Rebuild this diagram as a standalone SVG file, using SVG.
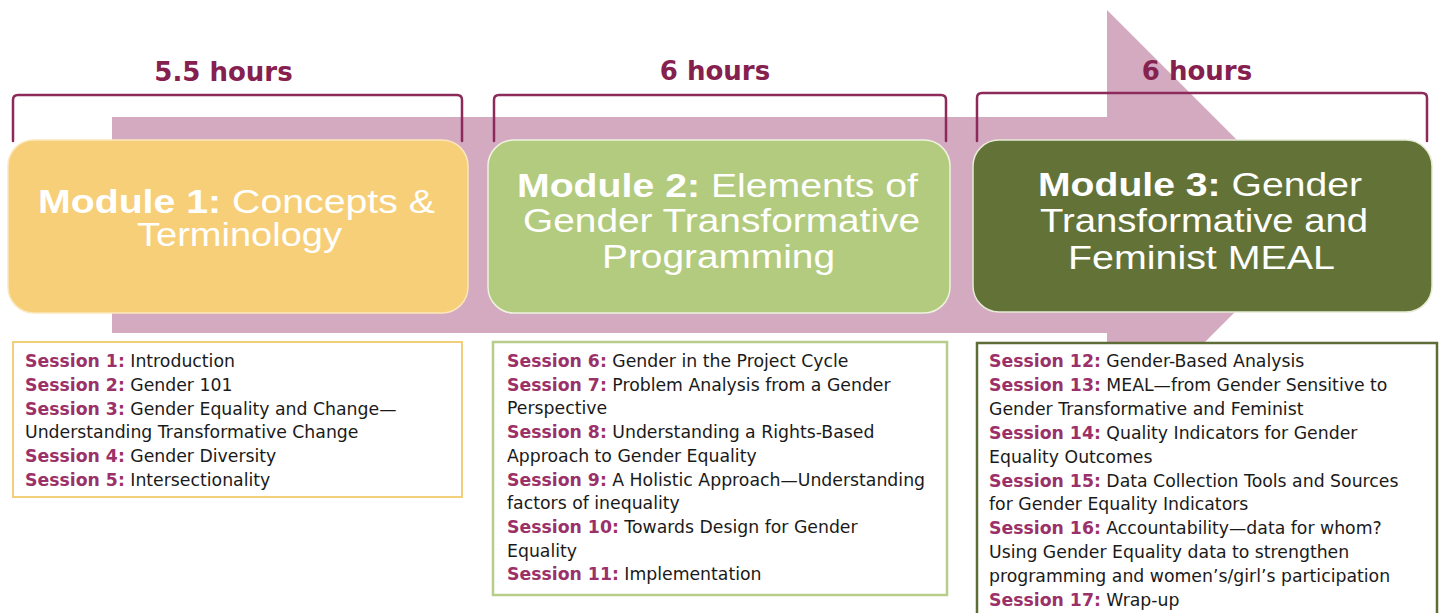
<svg xmlns="http://www.w3.org/2000/svg" width="1439" height="613" viewBox="0 0 1439 613">
  <style>
    .hours { font-family: "DejaVu Sans", Verdana, sans-serif; font-weight: bold; font-size: 26px; fill: #86204f; text-anchor: middle; }
    .bracket { fill: none; stroke: #8c2a5a; stroke-width: 2.5; stroke-linecap: round; stroke-linejoin: round; }
    .title { font-family: "Liberation Sans", Arial, sans-serif; font-size: 34px; fill: #ffffff; text-anchor: middle; }
    .title .b { font-weight: bold; }
    .sess { font-family: "DejaVu Sans", Verdana, sans-serif; font-size: 17.3px; fill: #1a1a1a; }
    .sess .k { font-weight: bold; fill: #9c3068; }
    .list { fill: #ffffff; }
  </style>

  <rect width="1439" height="613" fill="#ffffff"/>

  <!-- progress arrow behind the modules -->
  <g id="arrow">
    <path d="M112,117 H1107 V10 L1322,225 L1107,440 V333 H112 Z" fill="#d4aac1"/>
  </g>

  <!-- duration brackets -->
  <g id="durations">
    <text class="hours" x="223.5" y="81">5.5 hours</text>
    <path class="bracket" d="M13,141 V100 Q13,95 18,95 H457 Q462,95 462,100 V141"/>
    <text class="hours" x="715" y="80">6 hours</text>
    <path class="bracket" d="M494,141 V100 Q494,95 499,95 H941 Q946,95 946,100 V141"/>
    <text class="hours" x="1197" y="80">6 hours</text>
    <path class="bracket" d="M977,141 V98 Q977,93 982,93 H1422 Q1427,93 1427,98 V141"/>
  </g>

  <!-- module 1 -->
  <g id="module1">
    <rect x="8" y="140" width="460" height="173" rx="26" fill="#f6cf78" stroke="#fbe7bb" stroke-width="1.5"/>
    <text class="title" x="236.5" y="213" textLength="397" lengthAdjust="spacingAndGlyphs"><tspan class="b">Module 1:</tspan> Concepts &amp;</text>
    <text class="title" x="239.5" y="246" textLength="205" lengthAdjust="spacingAndGlyphs">Terminology</text>
  </g>

  <!-- module 2 -->
  <g id="module2">
    <rect x="488" y="140" width="462" height="173" rx="26" fill="#b3cb7e" stroke="#eef3df" stroke-width="1.5"/>
    <text class="title" x="717.5" y="197" textLength="401" lengthAdjust="spacingAndGlyphs"><tspan class="b">Module 2:</tspan> Elements of</text>
    <text class="title" x="721.5" y="232" textLength="397" lengthAdjust="spacingAndGlyphs">Gender Transformative</text>
    <text class="title" x="718.5" y="268" textLength="233" lengthAdjust="spacingAndGlyphs">Programming</text>
  </g>

  <!-- module 3 -->
  <g id="module3">
    <rect x="973" y="140" width="459" height="172" rx="26" fill="#637338" stroke="#e6ead6" stroke-width="1.5"/>
    <text class="title" x="1200" y="196" textLength="324" lengthAdjust="spacingAndGlyphs"><tspan class="b">Module 3:</tspan> Gender</text>
    <text class="title" x="1204" y="232" textLength="328" lengthAdjust="spacingAndGlyphs">Transformative and</text>
    <text class="title" x="1201.5" y="269" textLength="267" lengthAdjust="spacingAndGlyphs">Feminist MEAL</text>
  </g>

  <!-- session list for module 1 -->
  <g id="sessions1">
    <rect class="list" x="13" y="342" width="449" height="155" stroke="#f2cf7a" stroke-width="2"/>
    <text class="sess" x="25" y="367"><tspan class="k">Session 1:</tspan> Introduction</text>
    <text class="sess" x="25" y="390.8"><tspan class="k">Session 2:</tspan> Gender 101</text>
    <text class="sess" x="25" y="414.6"><tspan class="k">Session 3:</tspan> Gender Equality and Change—</text>
    <text class="sess" x="25" y="438.4">Understanding Transformative Change</text>
    <text class="sess" x="25" y="462.2"><tspan class="k">Session 4:</tspan> Gender Diversity</text>
    <text class="sess" x="25" y="486"><tspan class="k">Session 5:</tspan> Intersectionality</text>
  </g>

  <!-- session list for module 2 -->
  <g id="sessions2">
    <rect class="list" x="493" y="342" width="454" height="253" stroke="#b8cd8a" stroke-width="2.5"/>
    <text class="sess" x="507" y="367"><tspan class="k">Session 6:</tspan> Gender in the Project Cycle</text>
    <text class="sess" x="507" y="390.7"><tspan class="k">Session 7:</tspan> Problem Analysis from a Gender</text>
    <text class="sess" x="507" y="414.4">Perspective</text>
    <text class="sess" x="507" y="438.1"><tspan class="k">Session 8:</tspan> Understanding a Rights-Based</text>
    <text class="sess" x="507" y="461.8">Approach to Gender Equality</text>
    <text class="sess" x="507" y="485.5"><tspan class="k">Session 9:</tspan> A Holistic Approach—Understanding</text>
    <text class="sess" x="507" y="509.2">factors of inequality</text>
    <text class="sess" x="507" y="532.9"><tspan class="k">Session 10:</tspan> Towards Design for Gender</text>
    <text class="sess" x="507" y="556.6">Equality</text>
    <text class="sess" x="507" y="580.3"><tspan class="k">Session 11:</tspan> Implementation</text>
  </g>

  <!-- session list for module 3 -->
  <g id="sessions3">
    <rect class="list" x="977" y="343" width="460" height="290" stroke="#5e6c35" stroke-width="2.5"/>
    <text class="sess" x="989" y="367"><tspan class="k">Session 12:</tspan> Gender-Based Analysis</text>
    <text class="sess" x="989" y="390.9"><tspan class="k">Session 13:</tspan> MEAL—from Gender Sensitive to</text>
    <text class="sess" x="989" y="414.8">Gender Transformative and Feminist</text>
    <text class="sess" x="989" y="438.7"><tspan class="k">Session 14:</tspan> Quality Indicators for Gender</text>
    <text class="sess" x="989" y="462.6">Equality Outcomes</text>
    <text class="sess" x="989" y="486.5"><tspan class="k">Session 15:</tspan> Data Collection Tools and Sources</text>
    <text class="sess" x="989" y="510.4">for Gender Equality Indicators</text>
    <text class="sess" x="989" y="534.3"><tspan class="k">Session 16:</tspan> Accountability—data for whom?</text>
    <text class="sess" x="989" y="558.2">Using Gender Equality data to strengthen</text>
    <text class="sess" x="989" y="582.1">programming and women’s/girl’s participation</text>
    <text class="sess" x="989" y="606"><tspan class="k">Session 17:</tspan> Wrap-up</text>
  </g>
</svg>
